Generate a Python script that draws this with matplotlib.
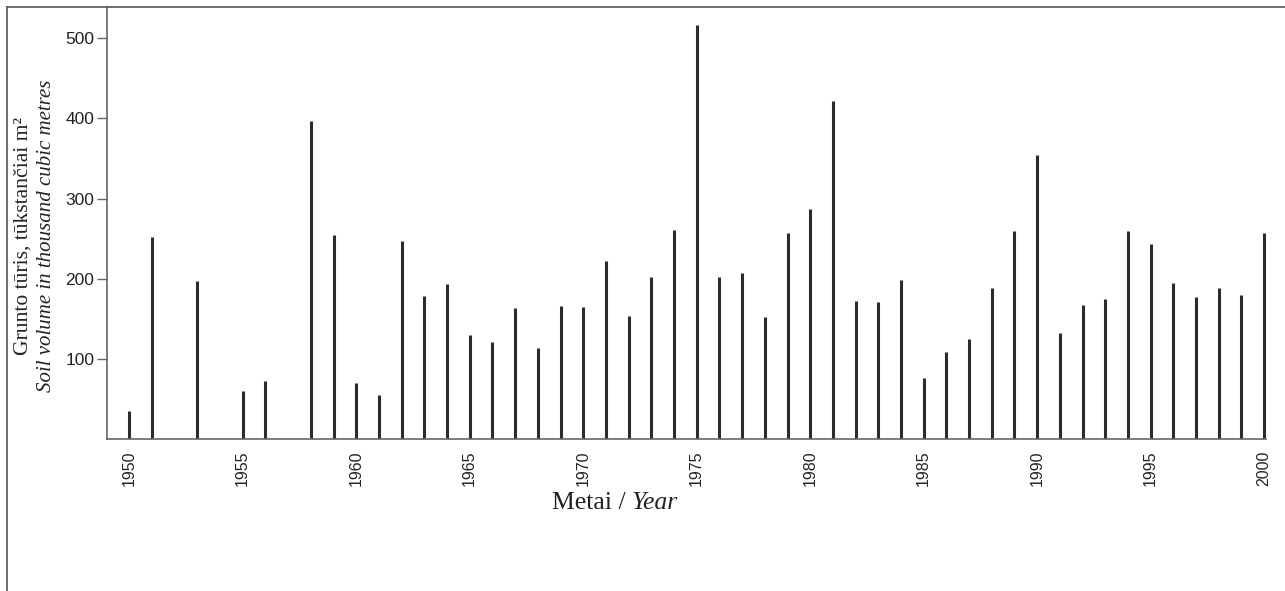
import matplotlib
matplotlib.use("Agg")
import matplotlib.pyplot as plt
from matplotlib.lines import Line2D

# values (thousand m3); 1952, 1954, 1957 have no bar
years = [1950, 1951, 1953, 1955, 1956, 1958, 1959, 1960, 1961, 1962,
         1963, 1964, 1965, 1966, 1967, 1968, 1969, 1970, 1971, 1972,
         1973, 1974, 1975, 1976, 1977, 1978, 1979, 1980, 1981, 1982,
         1983, 1984, 1985, 1986, 1987, 1988, 1989, 1990, 1991, 1992,
         1993, 1994, 1995, 1996, 1997, 1998, 1999, 2000]
volume = [35, 252, 197, 60, 73, 397, 255, 70, 55, 247,
          178, 193, 130, 121, 164, 114, 166, 165, 222, 154,
          202, 261, 517, 202, 207, 153, 257, 287, 422, 172,
          171, 199, 76, 109, 125, 189, 260, 355, 132, 167,
          175, 260, 243, 195, 177, 189, 180, 257]
x_ticks = [1950, 1955, 1960, 1965, 1970, 1975, 1980, 1985, 1990, 1995, 2000]
y_ticks = [100, 200, 300, 400, 500]

plt.rcParams["font.family"] = ["Liberation Sans", "DejaVu Sans"]

fig = plt.figure(figsize=(12.85, 5.91), dpi=100)
ax = fig.add_axes([107 / 1285, 1 - 439.2 / 591, 1159 / 1285, 432.2 / 591])

# thin bars drawn as vertical lines so every one gets the same pixel width
ax.vlines(years, 0, volume, colors="#2b2b2b", linewidth=2.2, capstyle="butt")

ax.set_xlim(1949.02, 2000.08)
ax.set_ylim(0, 539)
ax.set_xticks(x_ticks)
ax.set_xticklabels([str(y) for y in x_ticks], rotation=90, fontsize=11.5, color="#222222")
ax.set_yticks(y_ticks)
ax.set_yticklabels([str(v) for v in y_ticks], fontsize=12.5, color="#222222")
ax.tick_params(axis="x", length=0, pad=8)
ax.tick_params(axis="y", length=7, width=1, color="#666666", pad=2)

for s in ["top", "right"]:
    ax.spines[s].set_visible(False)
for s in ["left", "bottom"]:
    ax.spines[s].set_color("#666666")
    ax.spines[s].set_linewidth(1.2)

# axis titles: serif, second part italic
fig.text(23 / 1285, 1 - 236 / 591, "Grunto tūris, tūkstančiai m²", rotation=90,
         ha="center", va="center", fontsize=15.6, family="Liberation Serif", color="#222222")
fig.text(47 / 1285, 1 - 236 / 591, "Soil volume in thousand cubic metres", rotation=90,
         ha="center", va="center", fontsize=15, family="Liberation Serif", style="italic",
         color="#222222")
fig.text(632 / 1285, 1 - 503 / 591, "Metai / ", ha="right", va="center", fontsize=18.5,
         family="Liberation Serif", color="#222222")
fig.text(632 / 1285, 1 - 503 / 591, "Year", ha="left", va="center", fontsize=18.5,
         family="Liberation Serif", style="italic", color="#222222")

# outer frame on the top and left
fig.add_artist(Line2D([7 / 1285, 7 / 1285], [0, 1 - 7 / 591], transform=fig.transFigure,
                      color="#555555", linewidth=1.2))
fig.add_artist(Line2D([7 / 1285, 1], [1 - 7 / 591, 1 - 7 / 591], transform=fig.transFigure,
                      color="#555555", linewidth=1.2))

fig.savefig("out.png", dpi=100)
